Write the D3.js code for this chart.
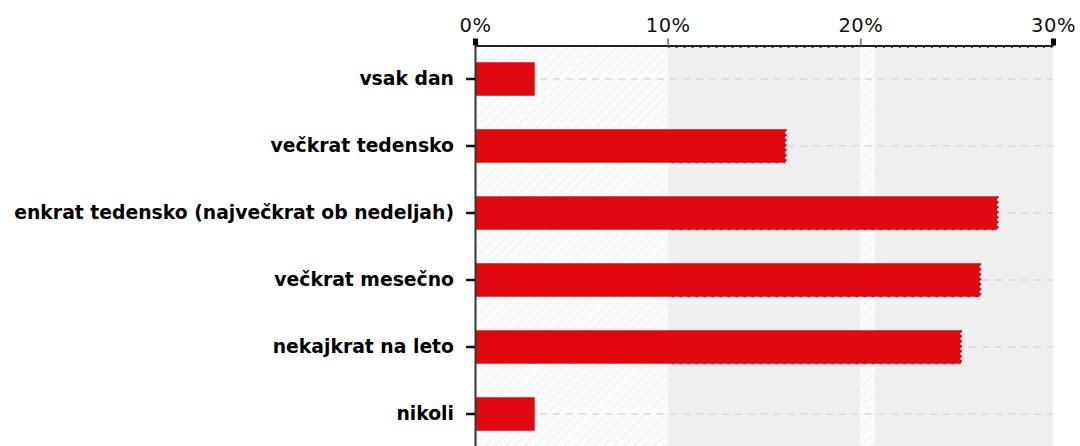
<!DOCTYPE html>
<html>
<head>
<meta charset="utf-8">
<script src="https://cdn.jsdelivr.net/npm/d3@7"></script>
<style>
  html, body { margin: 0; padding: 0; background: #fff; }
  svg { display: block; }
</style>
</head>
<body>
<svg id="chart" width="1080" height="446"></svg>
<script>
// data
const categories = [
    'vsak dan',
    'večkrat tedensko',
    'enkrat tedensko (največkrat ob nedeljah)',
    'večkrat mesečno',
    'nekajkrat na leto',
    'nikoli',
];
const values = [3.1, 16.1, 27.1, 26.2, 25.2, 3.1];
const xTicks = [0, 10, 20, 30];
const grayBands = [[10, 20], [20.75, 30]];

const Plot = { left: 475, right: 1053, top: 45.5, bottom: 447.5 };
const Red = '#e0090f';

const svg = d3.select('#chart');

const x = d3.scaleLinear().domain([0, 30]).range([Plot.left, Plot.right]);
const y = d3.scaleBand()
    .domain(categories)
    .range([Plot.top, Plot.bottom])
    .paddingInner(0.5)
    .paddingOuter(0.25);

// hatch pattern for the white bands
const defs = svg.append('defs');
const pat = defs.append('pattern')
    .attr('id', 'hatch')
    .attr('patternUnits', 'userSpaceOnUse')
    .attr('width', 7)
    .attr('height', 7)
    .attr('patternTransform', 'rotate(45)');
pat.append('rect').attr('width', 7).attr('height', 7).attr('fill', '#fcfcfc');
pat.append('line')
    .attr('x1', 0).attr('y1', 0).attr('x2', 0).attr('y2', 7)
    .attr('stroke', '#ececec')
    .attr('stroke-width', 1.5);

// background
svg.append('rect')
    .attr('x', x(0))
    .attr('y', Plot.top)
    .attr('width', x(30) - x(0))
    .attr('height', Plot.bottom - Plot.top)
    .attr('fill', 'url(#hatch)');

svg.append('g')
    .selectAll('rect')
    .data(grayBands)
    .join('rect')
    .attr('x', d => x(d[0]))
    .attr('y', Plot.top)
    .attr('width', d => x(d[1]) - x(d[0]))
    .attr('height', Plot.bottom - Plot.top)
    .attr('fill', '#efefef');

// dotted edge along top of gray region
svg.append('g')
    .selectAll('line')
    .data(grayBands)
    .join('line')
    .attr('x1', d => x(d[0]))
    .attr('x2', d => x(d[1]))
    .attr('y1', Plot.top + 1.5)
    .attr('y2', Plot.top + 1.5)
    .attr('stroke', '#444')
    .attr('stroke-width', 2)
    .attr('stroke-dasharray', '2,6');

// vertical dotted grid lines
svg.append('g')
    .selectAll('line')
    .data(xTicks.slice(1))
    .join('line')
    .attr('x1', d => x(d))
    .attr('x2', d => x(d))
    .attr('y1', Plot.top)
    .attr('y2', Plot.bottom)
    .attr('stroke', '#fafafa')
    .attr('stroke-width', 2)
    .attr('stroke-dasharray', '2,3');

// horizontal dashed grid lines at category centers
svg.append('g')
    .selectAll('line')
    .data(categories)
    .join('line')
    .attr('x1', x(0))
    .attr('x2', x(30))
    .attr('y1', d => y(d) + y.bandwidth() / 2)
    .attr('y2', d => y(d) + y.bandwidth() / 2)
    .attr('stroke', '#d9d9d9')
    .attr('stroke-width', 1.5)
    .attr('stroke-dasharray', '7,6');

// bars
const bars = svg.append('g')
    .selectAll('g')
    .data(categories.map((c, i) => ({ c, v: values[i] })))
    .join('g');

bars.append('rect')
    .attr('x', x(0))
    .attr('y', d => y(d.c))
    .attr('width', d => x(d.v) - x(0))
    .attr('height', y.bandwidth())
    .attr('fill', Red);

// rough dotted edges on the bars (where they lie over the grey)
bars.filter(d => d.v > 10)
    .append('line')
    .attr('x1', x(10) + 4)
    .attr('x2', d => x(d.v))
    .attr('y1', d => y(d.c) + y.bandwidth() - 0.5)
    .attr('y2', d => y(d.c) + y.bandwidth() - 0.5)
    .attr('stroke', '#a8070b')
    .attr('stroke-width', 2)
    .attr('stroke-dasharray', '2,6');

bars.filter(d => d.v > 10)
    .append('line')
    .attr('x1', d => x(d.v) + 0.5)
    .attr('x2', d => x(d.v) + 0.5)
    .attr('y1', d => y(d.c))
    .attr('y2', d => y(d.c) + y.bandwidth())
    .attr('stroke', '#a8070b')
    .attr('stroke-width', 2)
    .attr('stroke-dasharray', '2,3');

// top axis
const xAxis = svg.append('g')
    .attr('transform', `translate(0, ${Plot.top})`)
    .call(d3.axisTop(x)
        .tickValues(xTicks)
        .tickFormat(d => `${d}%`)
        .tickSize(7)
        .tickPadding(7)
        .tickSizeOuter(0));

xAxis.select('.domain')
    .attr('stroke', '#222')
    .attr('stroke-width', 2);
xAxis.selectAll('.tick line')
    .attr('stroke', d => (d === 0 || d === 30 ? '#000' : '#888'))
    .attr('stroke-width', d => (d === 0 || d === 30 ? 5 : 2));
xAxis.selectAll('.tick text')
    .attr('font-family', 'DejaVu Sans, sans-serif')
    .attr('font-size', 19.5)
    .attr('fill', '#111')
    .attr('letter-spacing', 0.5);

// left axis
const yAxis = svg.append('g')
    .attr('transform', `translate(${Plot.left}, 0)`)
    .call(d3.axisLeft(y)
        .tickSize(9)
        .tickPadding(12)
        .tickSizeOuter(0));

yAxis.select('.domain')
    .attr('stroke', '#333')
    .attr('stroke-width', 2);
yAxis.selectAll('.tick line')
    .attr('stroke', '#111')
    .attr('stroke-width', 2.5);
yAxis.selectAll('.tick text')
    .attr('font-family', 'DejaVu Sans, sans-serif')
    .attr('font-weight', 'bold')
    .attr('font-size', 18.8)
    .attr('fill', '#000');
</script>
</body>
</html>
